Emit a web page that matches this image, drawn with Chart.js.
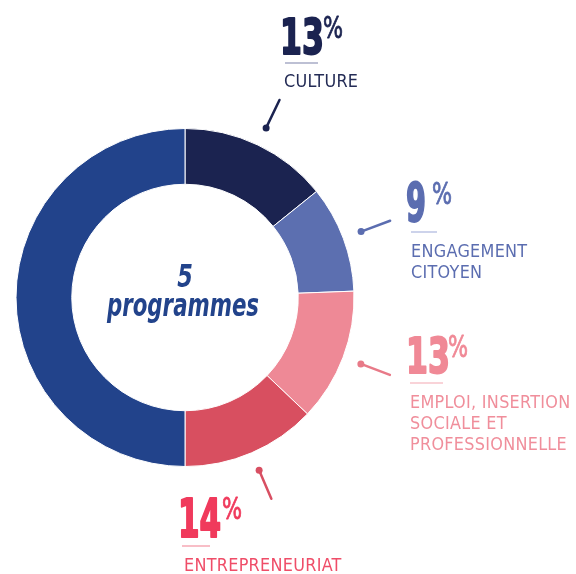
<!DOCTYPE html>
<html>
<head>
<meta charset="utf-8">
<script src="https://cdn.jsdelivr.net/npm/chart.js@4/dist/chart.umd.min.js"></script>
<style>
  body { margin: 0; background: #fff; }
  #wrap { width: 576px; height: 574px; position: relative; }
</style>
</head>
<body>
<div id="wrap"><canvas id="programmes"></canvas></div>
<script>
// categories, shares as drawn on the ring, and the printed percentages
var categories = ['Culture', 'Engagement citoyen', 'Emploi, insertion sociale et professionnelle', 'Entrepreneuriat', 'Autre programme'];
var shares = [14.2, 10.2, 12.7, 12.9, 50];
var percentLabels = ['13', '9', '13', '14', ''];
var captionLines = [['CULTURE'], ['ENGAGEMENT', 'CITOYEN'], ['EMPLOI, INSERTION', 'SOCIALE ET', 'PROFESSIONNELLE'], ['ENTREPRENEURIAT'], []];
var centerLines = ['5', 'programmes'];

var ringColors = ['#1b2350', '#5c6fb0', '#ee8996', '#d84f60', '#22438b'];

var narrow = '"DejaVu Sans Condensed", "DejaVu Sans", sans-serif';

// where each callout sits: num = [x, baseline, size, squeeze], pct = [x, baseline],
// rule = [x0, x1, y], cap = [x, first baseline]
var callouts = [
    { num: [279, 55, 50, 0.7], pct: [323, 38], rule: [285, 318, 63], cap: [284, 87],
      numColor: '#1b2350', capColor: '#232b55', ruleColor: '#a7abc6', lead: '#1b2350' },
    { num: [405, 222, 53, 0.6], pct: [432, 204], rule: [411, 437, 232], cap: [411, 257],
      numColor: '#5b6db0', capColor: '#5b6db0', ruleColor: '#bcc4e4', lead: '#5b6db0' },
    { num: [405, 374, 50, 0.7], pct: [448, 357], rule: [410, 443, 383], cap: [410, 408],
      numColor: '#f08996', capColor: '#f08e9b', ruleColor: '#f7c4cb', lead: '#e87a88' },
    { num: [177, 538, 53, 0.65], pct: [222, 519], rule: [182, 210, 546], cap: [184, 571],
      numColor: '#f03a5c', capColor: '#ef4d68', ruleColor: '#f6a9b4', lead: '#d84f62' }
];

// text squeezed horizontally, to get closer to the condensed face of the original
function squeezed(ctx, text, x, y, sx, stroke) {
    ctx.save();
    ctx.translate(x, y);
    ctx.scale(sx, 1);
    ctx.fillText(text, 0, 0);
    if (stroke) {
        ctx.strokeStyle = ctx.fillStyle;
        ctx.lineWidth = stroke;
        ctx.lineJoin = 'round';
        ctx.strokeText(text, 0, 0);
    }
    ctx.restore();
}

var calloutPlugin = {
    id: 'callouts',
    afterDraw: function (chart) {
        var ctx = chart.ctx;
        var arcs = chart.getDatasetMeta(0).data;
        ctx.save();
        callouts.forEach(function (c, i) {
            // leader: dot + short radial stroke from the middle of the slice
            var a = arcs[i];
            var mid = (a.startAngle + a.endAngle) / 2;
            var r1 = a.outerRadius + 19, r2 = a.outerRadius + 50;
            ctx.strokeStyle = c.lead;
            ctx.fillStyle = c.lead;
            ctx.lineWidth = 2.5;
            ctx.lineCap = 'round';
            ctx.beginPath();
            ctx.moveTo(a.x + Math.cos(mid) * r1, a.y + Math.sin(mid) * r1);
            ctx.lineTo(a.x + Math.cos(mid) * r2, a.y + Math.sin(mid) * r2);
            ctx.stroke();
            ctx.beginPath();
            ctx.arc(a.x + Math.cos(mid) * r1, a.y + Math.sin(mid) * r1, 3.5, 0, Math.PI * 2);
            ctx.fill();

            // big number and %
            ctx.textAlign = 'left';
            ctx.textBaseline = 'alphabetic';
            ctx.fillStyle = c.numColor;
            ctx.font = 'bold ' + c.num[2] + 'px ' + narrow;
            squeezed(ctx, percentLabels[i], c.num[0] + 1, c.num[1] - 1, c.num[3], 2);
            ctx.font = '30px ' + narrow;
            squeezed(ctx, '%', c.pct[0], c.pct[1], 0.78, 0.8);

            // underline
            ctx.strokeStyle = c.ruleColor;
            ctx.lineWidth = 1.5;
            ctx.lineCap = 'butt';
            ctx.beginPath();
            ctx.moveTo(c.rule[0], c.rule[2]);
            ctx.lineTo(c.rule[1], c.rule[2]);
            ctx.stroke();

            // caption
            ctx.fillStyle = c.capColor;
            ctx.font = '18px ' + narrow;
            ctx.letterSpacing = '0.3px';
            captionLines[i].forEach(function (line, k) {
                squeezed(ctx, line, c.cap[0], c.cap[1] + k * 21, 0.99);
            });
            ctx.letterSpacing = '0px';
        });

        // centre text
        var a0 = arcs[0];
        ctx.textAlign = 'center';
        ctx.fillStyle = '#22438b';
        ctx.font = 'italic bold 32px ' + narrow;
        squeezed(ctx, centerLines[0], a0.x, a0.y - 11, 0.78);
        squeezed(ctx, centerLines[1], a0.x - 2, a0.y + 18, 0.74);
        ctx.restore();
    }
};

var programmes = document.getElementById('programmes');
var progChart = new Chart(programmes, {
    type: 'doughnut',
    data: {
        labels: categories,
        datasets: [{
            data: shares,
            backgroundColor: ringColors,
            borderColor: '#ffffff',
            borderWidth: 1,
        }]
    },
    options: {
        responsive: true,
        maintainAspectRatio: false,
        animation: false,
        cutout: '67%',
        layout: {
            padding: { left: 15, right: 221, top: 128, bottom: 107 }
        },
        plugins: {
            legend: { display: false },
            tooltip: { enabled: false },
        }
    },
    plugins: [calloutPlugin]
});
</script>
</body>
</html>
